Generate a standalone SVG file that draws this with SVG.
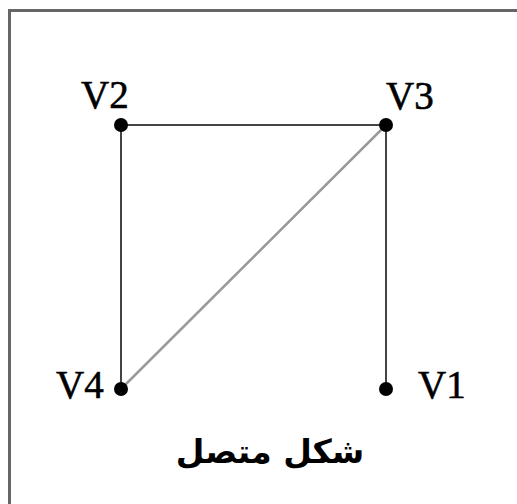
<svg xmlns="http://www.w3.org/2000/svg" width="517" height="504" viewBox="0 0 517 504">
<style>
.lbl{font-family:"Liberation Serif","Times New Roman",serif;font-size:39px;fill:#000;stroke:#000;stroke-width:0.6}
.edge{stroke:#444;stroke-width:2;fill:none}
.dot{fill:#000}
</style>
<rect width="517" height="504" fill="#fff"/>
<path d="M9.5 520 V10.5 H530" fill="none" stroke="#666" stroke-width="3"/>
<g id="connectors">
<line class="edge" x1="121" y1="125" x2="386" y2="125"/>
<line class="edge" x1="121" y1="125" x2="121" y2="389"/>
<line class="edge" x1="386" y1="125" x2="386" y2="389"/>
<line x1="386" y1="125" x2="121" y2="389" stroke="#999" stroke-width="2.5"/>
</g>
<g id="V2"><circle class="dot" cx="121" cy="125" r="7"/><text class="lbl" x="81" y="108">V2</text></g>
<g id="V3"><circle class="dot" cx="386" cy="125" r="7"/><text class="lbl" x="386" y="109">V3</text></g>
<g id="V4"><circle class="dot" cx="121" cy="389" r="7"/><text class="lbl" x="56" y="398">V4</text></g>
<g id="V1"><circle class="dot" cx="386" cy="389" r="7"/><text class="lbl" x="418" y="398">V1</text></g>
<text x="270" y="463" text-anchor="middle" direction="rtl" style="font-family:'DejaVu Sans','Noto Sans',sans-serif;font-size:33px;font-weight:bold;fill:#000">شكل متصل</text>
</svg>
